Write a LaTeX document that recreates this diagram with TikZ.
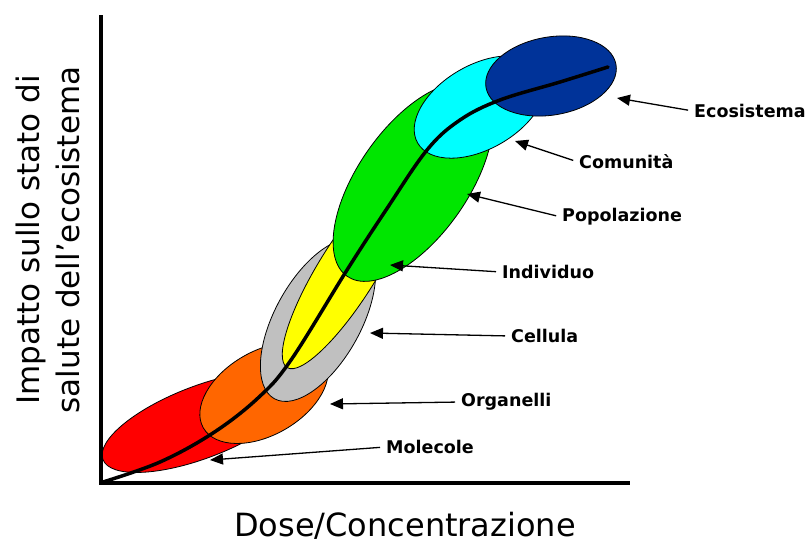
\documentclass[tikz,border=0pt]{standalone}
\usepackage{fontspec}
\setmainfont{DejaVu Sans}
\usetikzlibrary{arrows.meta}
\definecolor{molec}{HTML}{FF0000}
\definecolor{organ}{HTML}{FF6600}
\definecolor{cell}{HTML}{C0C0C0}
\definecolor{indiv}{HTML}{FFFF00}
\definecolor{popol}{HTML}{00E600}
\definecolor{comun}{HTML}{00FFFF}
\definecolor{ecosis}{HTML}{003399}

\begin{document}
\begin{tikzpicture}[x=1pt,y=-1pt,
  blob/.style={draw,line width=0.8pt},
  lbl/.style={font=\fontsize{17.5}{20}\selectfont\bfseries,anchor=west,inner sep=1pt},
  ptr/.style={-{Triangle[length=13pt,width=11pt]},line width=1.3pt,shorten <=5pt}]
  \useasboundingbox (0,0) rectangle (805,544);
  % levels of organisation
  \draw[blob,fill=molec,rotate around={21:(201,422)}] (201,422) ellipse (105 and 36);
  \draw[blob,fill=organ,rotate around={30:(264,393)}] (264,393) ellipse (70 and 42);
  \draw[blob,fill=cell,rotate around={61:(318,320)}] (318,320) ellipse (90 and 43);
  \draw[blob,fill=indiv,rotate around={58:(348,270)}] (348,270) ellipse (115 and 29);
  \draw[blob,fill=popol,rotate around={55:(413,182)}] (413,182) ellipse (115 and 55);
  \draw[blob,fill=comun,rotate around={30:(480,107)}] (480,107) ellipse (72 and 42);
  \draw[blob,fill=ecosis,rotate around={10:(551,76)}] (551,76) ellipse (66 and 39);
  % dose-response curve
  \draw[line width=3.5pt,line cap=round] plot[smooth,tension=0.6] coordinates {(103,482) (160,462) (213,433) (258,398) (291,360) (347,270) (386,210) (427,150) (460,120) (500,100) (560,82) (608,67)};
  % axes
  \draw[line width=4pt] (101,15) -- (101,483) -- (630,483);
  \node[rotate=90,align=center,font=\fontsize{31}{40}\selectfont] (ylab) at (48,240) {Impatto sullo stato di\\salute dell'ecosistema};
  \node[font=\fontsize{32}{36}\selectfont] (xlab) at (405,526) {Dose/Concentrazione};
  % labels
  \node[lbl] (eco) at (693,111) {Ecosistema};
  \node[lbl] (com) at (578,162) {Comunità};
  \node[lbl] (pop) at (561,217) {Popolazione};
  \node[lbl] (ind) at (501,272) {Individuo};
  \node[lbl] (cel) at (510,336) {Cellula};
  \node[lbl] (org) at (460,402) {Organelli};
  \node[lbl] (mol) at (385,447) {Molecole};
  \coordinate (ecoP) at (617,98);
  \coordinate (comP) at (515,141);
  \coordinate (popP) at (467,194);
  \coordinate (indP) at (390,265);
  \coordinate (celP) at (370,333);
  \coordinate (orgP) at (330,404);
  \coordinate (molP) at (210,460);
  \draw[ptr] (eco.west) -- (ecoP);
  \draw[ptr] (com.west) -- (comP);
  \draw[ptr] (pop.west) -- (popP);
  \draw[ptr] (ind.west) -- (indP);
  \draw[ptr] (cel.west) -- (celP);
  \draw[ptr] (org.west) -- (orgP);
  \draw[ptr] (mol.west) -- (molP);
\end{tikzpicture}
\end{document}
